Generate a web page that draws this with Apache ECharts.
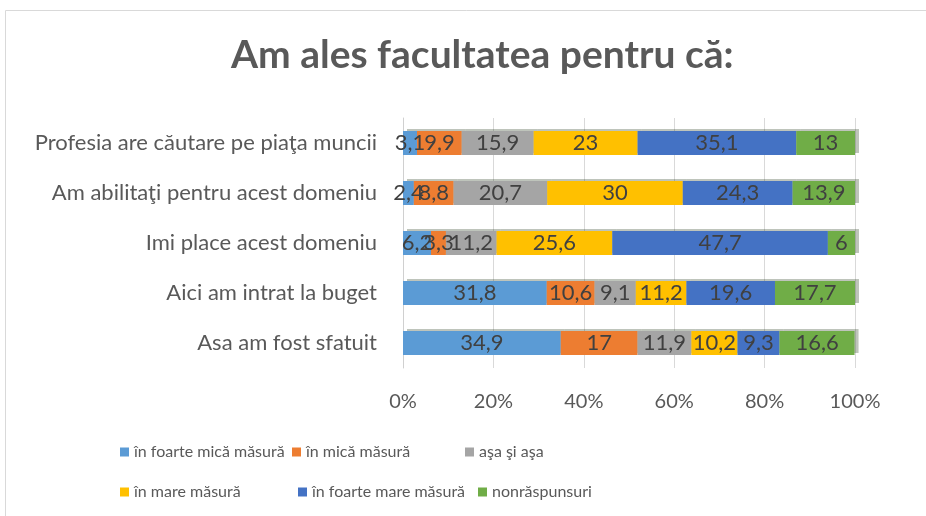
<!DOCTYPE html>
<html>
<head>
<meta charset="utf-8">
<script src="https://cdn.jsdelivr.net/npm/echarts@6/dist/echarts.min.js"></script>
<style>
  html, body { margin: 0; padding: 0; background: #fff; }
  #main { width: 926px; height: 516px; }
</style>
</head>
<body>
<div id="main"></div>
<script>
// categorii (de jos in sus, axa y)
var categories = [
  "Asa am fost sfatuit",
  "Aici am intrat la buget",
  "Imi place acest domeniu",
  "Am abilitaţi pentru acest domeniu",
  "Profesia are căutare pe piaţa muncii"
];
var seriesNames = [
  "în foarte mică măsură",
  "în mică măsură",
  "aşa şi aşa",
  "în mare măsură",
  "în foarte mare măsură",
  "nonrăspunsuri"
];
var foarteMica = [34.9, 31.8, 6.2, 2.4, 3.1];
var mica = [17, 10.6, 3.3, 8.8, 9.9];
var asaSiAsa = [11.9, 9.1, 11.2, 20.7, 15.9];
var mare = [10.2, 11.2, 25.6, 30, 23];
var foarteMare = [9.3, 19.6, 47.7, 24.3, 35.1];
var nonraspuns = [16.6, 17.7, 6, 13.9, 13];
var tickLabels = ["0%", "20%", "40%", "60%", "80%", "100%"];

var colors = ["#5B9BD5", "#ED7D31", "#A5A5A5", "#FFC000", "#4472C4", "#70AD47"];
var values = [foarteMica, mica, asaSiAsa, mare, foarteMare, nonraspuns];
var font = "Lato, 'Open Sans', sans-serif";

var series = [];
for (var i = 0; i < seriesNames.length; i++) {
  series.push({
    name: seriesNames[i],
    type: "bar",
    stack: "total",
    barWidth: 24,
    data: values[i],
    itemStyle: {
      color: colors[i],
      shadowColor: "rgba(40,60,30,0.3)",
      shadowOffsetX: 4,
      shadowOffsetY: -2,
      shadowBlur: 0
    },
    label: {
      show: true,
      position: "inside",
      color: "#404040",
      fontSize: 22,
      fontFamily: font,
      formatter: function (p) { return String(p.value).replace(".", ","); }
    }
  });
}

// pozitii legenda (doua randuri, trei coloane)
var legendPos = [[115, 439], [287, 439], [460, 439], [115, 479], [293, 479], [473, 479]];
var legends = [];
for (var j = 0; j < seriesNames.length; j++) {
  legends.push({
    data: [seriesNames[j]],
    left: legendPos[j][0],
    top: legendPos[j][1],
    itemWidth: 9,
    itemHeight: 9,
    itemGap: 4,
    icon: "rect",
    textStyle: { color: "#595959", fontSize: 16, fontFamily: font }
  });
}

var myChart = echarts.init(document.getElementById("main"));
var option = {
  animation: false,
  color: colors,
  title: {
    text: "Am ales facultatea pentru că:",
    left: 226,
    top: 31,
    textStyle: { color: "#595959", fontSize: 39, fontWeight: "bold", fontFamily: font }
  },
  graphic: [{
    type: "rect",
    shape: { x: 5.5, y: 10.5, width: 940, height: 520 },
    style: { fill: "none", stroke: "#d9d9d9", lineWidth: 1 },
    silent: true
  }],
  legend: legends,
  grid: { left: 403, right: 71, top: 118, bottom: 148 },
  xAxis: {
    type: "value",
    min: 0,
    max: 100,
    interval: 20,
    axisLine: { show: false },
    axisTick: { show: false },
    splitLine: { lineStyle: { color: "#d9d9d9" } },
    axisLabel: {
      margin: 24,
      color: "#595959",
      fontSize: 20,
      fontFamily: font,
      formatter: function (v) { return tickLabels[v / 20]; }
    }
  },
  yAxis: {
    type: "category",
    data: categories,
    axisTick: { show: false },
    axisLine: { lineStyle: { color: "#d0d0d0" } },
    axisLabel: { margin: 26, color: "#595959", fontSize: 22, fontFamily: font }
  },
  series: series
};
myChart.setOption(option);
</script>
</body>
</html>
